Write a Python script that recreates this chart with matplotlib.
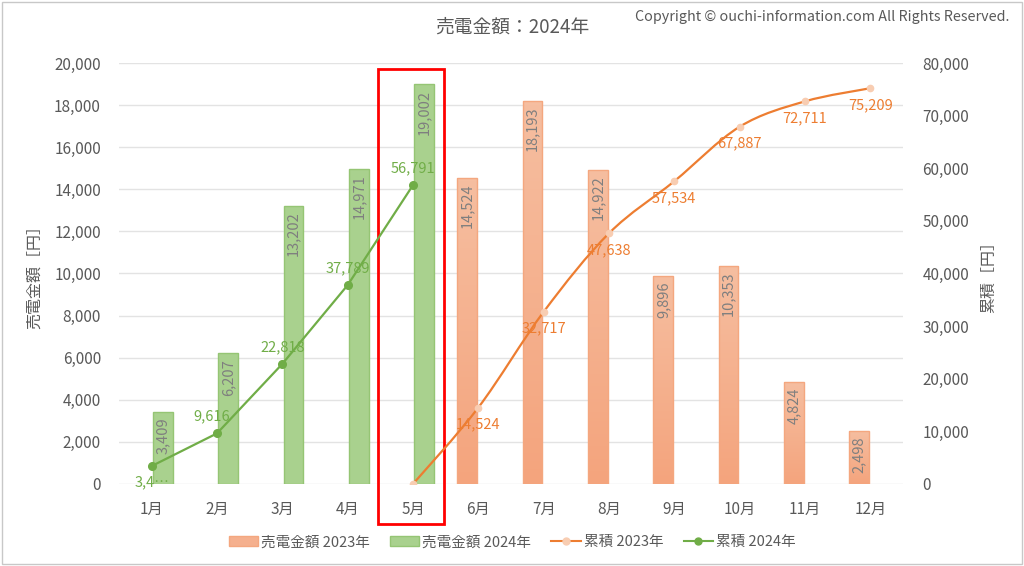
import matplotlib.pyplot as plt
import numpy as np
from matplotlib.patches import Rectangle, Patch, PathPatch
from matplotlib.lines import Line2D
from matplotlib.path import Path
from matplotlib.colors import LinearSegmentedColormap

plt.rcParams['font.family'] = ['Noto Sans CJK JP', 'DejaVu Sans']

months = ['1月', '2月', '3月', '4月', '5月', '6月', '7月', '8月', '9月', '10月', '11月', '12月']
sales_2023 = [np.nan] * 5 + [14524, 18193, 14922, 9896, 10353, 4824, 2498]
sales_2024 = [3409, 6207, 13202, 14971, 19002] + [np.nan] * 7
cum_2023 = [np.nan] * 4 + [0, 14524, 32717, 47638, 57534, 67887, 72711, 75209]
cum_2024 = [3409, 9616, 22818, 37789, 56791] + [np.nan] * 7

ORANGE = '#ED7D31'
GREEN = '#70AD47'
GRAY = '#595959'

fig = plt.figure(figsize=(10.24, 5.66), dpi=100)
ax = fig.add_axes([0.1162, 0.1449, 0.7656, 0.7438])
ax2 = ax.twinx()

x = np.arange(len(months))
w = 0.3
off = 0.17

bars23 = ax.bar(x - off, sales_2023, w, facecolor='none', edgecolor='#F4A77F', linewidth=1, zorder=3)
bars24 = ax.bar(x + off, sales_2024, w, facecolor='#A9D18E', edgecolor='#95C574', linewidth=1, zorder=3)

# gradient fill for 2023 bars
cmap = LinearSegmentedColormap.from_list('og', ['#F4A47D', '#F6BEA0'])
grad = np.linspace(0, 1, 100).reshape(-1, 1)
for b in bars23:
    h = b.get_height()
    if not np.isfinite(h) or h == 0:
        continue
    x0 = b.get_x()
    im = ax.imshow(grad, extent=[x0, x0 + b.get_width(), 0, h], origin='lower',
                   aspect='auto', cmap=cmap, zorder=2.5)
    im.set_clip_path(b)

for bars in (bars23, bars24):
    for b in bars:
        h = b.get_height()
        if not np.isfinite(h):
            continue
        ax.annotate(f'{int(h):,}', (b.get_x() + b.get_width() / 2, h),
                    xytext=(0, -4), textcoords='offset points', rotation=90,
                    ha='center', va='top', fontsize=10.5, color='#7F7F7F', zorder=4)

ax.set_xlim(-0.5, len(months) - 0.5)
ax.set_ylim(0, 20000)
ax.set_yticks(np.arange(0, 20001, 2000))
ax.yaxis.set_major_formatter(plt.FuncFormatter(lambda v, p: f'{int(v):,}'))
ax.set_xticks(x)
ax.set_xticklabels(months)
ax.grid(axis='y', color='#E3E3E3', linewidth=1)
ax.set_axisbelow(True)
for s in ax.spines.values():
    s.set_visible(False)
for s in ax2.spines.values():
    s.set_visible(False)
ax.tick_params(length=0, colors=GRAY, labelsize=11, pad=12)
ax.tick_params(axis='y', pad=13)
ax.set_ylabel('売電金額［円］', color=GRAY, fontsize=11.5, labelpad=8)

# cumulative 2024 (straight segments)
ax2.plot(x, cum_2024, color=GREEN, linewidth=1.6, marker='o', markersize=5.5, zorder=5)

# cumulative 2023 (smoothed line)
c23 = np.array(cum_2023, dtype=float)
m = np.isfinite(c23)
px, py = x[m].astype(float), c23[m]
pts = np.column_stack([px, py])
ext = np.vstack([pts[0], pts, pts[-1]])
verts = [tuple(pts[0])]
codes = [Path.MOVETO]
for i in range(len(pts) - 1):
    p0, p1, p2, p3 = ext[i], ext[i + 1], ext[i + 2], ext[i + 3]
    c1 = p1 + (p2 - p0) / 6
    c2 = p2 - (p3 - p1) / 6
    verts += [tuple(c1), tuple(c2), tuple(p2)]
    codes += [Path.CURVE4] * 3
ax2.add_patch(PathPatch(Path(verts, codes), facecolor='none', edgecolor=ORANGE, linewidth=1.6, zorder=5))
ax2.plot(px, py, linestyle='none', marker='o', markersize=4.5, color='#F8CDB2',
         markeredgecolor='#F8CDB2', zorder=6)

ax2.set_ylim(0, 80000)
ax2.set_yticks(np.arange(0, 80001, 10000))
ax2.yaxis.set_major_formatter(plt.FuncFormatter(lambda v, p: f'{int(v):,}'))
ax2.tick_params(length=0, colors=GRAY, labelsize=11, pad=14)
ax2.set_ylabel('累積［円］', color=GRAY, fontsize=11.5, labelpad=8, rotation=90)

for i, v in enumerate(cum_2024):
    if np.isfinite(v):
        if i == 0:
            ax2.annotate('3,4…', (i, v), xytext=(0, -7), textcoords='offset points',
                         ha='center', va='top', color=GREEN, fontsize=10.5, zorder=7)
        else:
            ax2.annotate(f'{v:,}', (i, v), xytext=(-4 if i == 1 else 0, 7), textcoords='offset points',
                         ha='center', va='bottom', color=GREEN, fontsize=10.5, zorder=7)
for i, v in enumerate(cum_2023):
    if np.isfinite(v) and v > 0:
        ax2.annotate(f'{int(v):,}', (i, v), xytext=(0, -7), textcoords='offset points',
                     ha='center', va='top', color=ORANGE, fontsize=10.5, zorder=7)

# highlight box around May
ax.add_patch(Rectangle((3.46, -1900), 1.01, 21613, fill=False, edgecolor='#FF0000',
                       linewidth=2, clip_on=False, zorder=8))

fig.text(0.5, 0.952, '売電金額：2024年', ha='center', va='center', fontsize=13.5, color=GRAY)
fig.text(0.986, 0.970, 'Copyright © ouchi-information.com All Rights Reserved.',
         ha='right', va='center', fontsize=10.3, color=GRAY)

handles = [
    Patch(facecolor='#F5B08E', edgecolor='#F4A77F', label='売電金額 2023年'),
    Patch(facecolor='#A9D18E', edgecolor='#95C574', label='売電金額 2024年'),
    Line2D([], [], color=ORANGE, marker='o', markersize=5, markerfacecolor='#F8CDB2',
           markeredgecolor='#F8CDB2', label='累積 2023年'),
    Line2D([], [], color=GREEN, marker='o', markersize=5, label='累積 2024年'),
]
fig.legend(handles=handles, loc='center', bbox_to_anchor=(0.5, 0.042), ncol=4, frameon=False,
           fontsize=10.5, labelcolor=GRAY, handlelength=2.0, handletextpad=0.2, columnspacing=1.4)

fig.patches.append(Rectangle((0.002, 0.003), 0.996, 0.994, transform=fig.transFigure,
                             fill=False, edgecolor='#C8C8C8', linewidth=1))

fig.savefig('out.png', dpi=100)
